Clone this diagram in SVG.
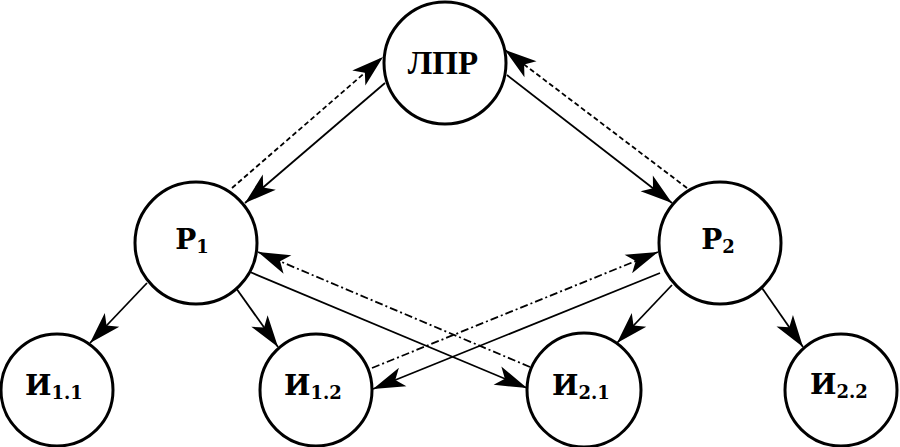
<svg xmlns="http://www.w3.org/2000/svg" width="900" height="447" viewBox="0 0 900 447">
<style>
.node circle{fill:#fff;stroke:#000;stroke-width:3}
.lbl{font-family:"DejaVu Serif","Liberation Serif",serif;font-weight:bold;font-size:28px;fill:#000;text-anchor:middle}
.sub{font-size:18px}
.top{font-family:"Liberation Serif","Times New Roman",serif;font-weight:bold;font-size:33px;fill:#000;text-anchor:middle}
.conn line{stroke:#000;stroke-width:1.8;fill:none;marker-end:url(#arr)}
.dash{stroke-dasharray:5 3}
.dashdot{stroke-dasharray:8 3 2 3}
</style>
<defs>
<marker id="arr" markerUnits="userSpaceOnUse" markerWidth="40" markerHeight="30" refX="0" refY="0" orient="auto" overflow="visible">
<path d="M0,0 L-32,-10 L-24,0 L-32,10 Z" fill="#000" stroke="none"/>
</marker>
</defs>
<g class="conn" id="connectors">
<line class="dash" x1="232" y1="188" x2="383" y2="57"/>
<line x1="385" y1="83" x2="245" y2="203"/>
<line class="dash" x1="687" y1="188" x2="505" y2="50"/>
<line x1="507" y1="75" x2="672" y2="203"/>
<line x1="147" y1="283" x2="90" y2="343"/>
<line x1="236" y1="288" x2="278" y2="347"/>
<line x1="672" y1="285" x2="617" y2="343"/>
<line x1="762" y1="288" x2="803" y2="347"/>
<line class="dashdot" x1="530" y1="367" x2="258" y2="252"/>
<line x1="250" y1="272" x2="527" y2="388"/>
<line class="dashdot" x1="372" y1="368" x2="658" y2="252"/>
<line x1="660" y1="273" x2="373" y2="389"/>
</g>
<g class="node" id="lpr">
<circle cx="445" cy="63" r="61"/>
<text class="top" x="443" y="74">ЛПР</text>
</g>
<g class="node" id="p1">
<circle cx="196" cy="243" r="61"/>
<text class="lbl" x="192" y="249">Р<tspan class="sub" dy="4">1</tspan></text>
</g>
<g class="node" id="p2">
<circle cx="720" cy="243" r="61"/>
<text class="lbl" x="718" y="249">Р<tspan class="sub" dy="4">2</tspan></text>
</g>
<g class="node" id="i11">
<circle cx="57" cy="390" r="56"/>
<text class="lbl" x="54" y="395">И<tspan class="sub" dy="4">1.1</tspan></text>
</g>
<g class="node" id="i12">
<circle cx="316" cy="390" r="56"/>
<text class="lbl" x="313" y="395">И<tspan class="sub" dy="4">1.2</tspan></text>
</g>
<g class="node" id="i21">
<circle cx="584" cy="390" r="57"/>
<text class="lbl" x="581" y="395">И<tspan class="sub" dy="4">2.1</tspan></text>
</g>
<g class="node" id="i22">
<circle cx="841" cy="390" r="56"/>
<text class="lbl" x="839" y="394">И<tspan class="sub" dy="4">2.2</tspan></text>
</g>
</svg>
